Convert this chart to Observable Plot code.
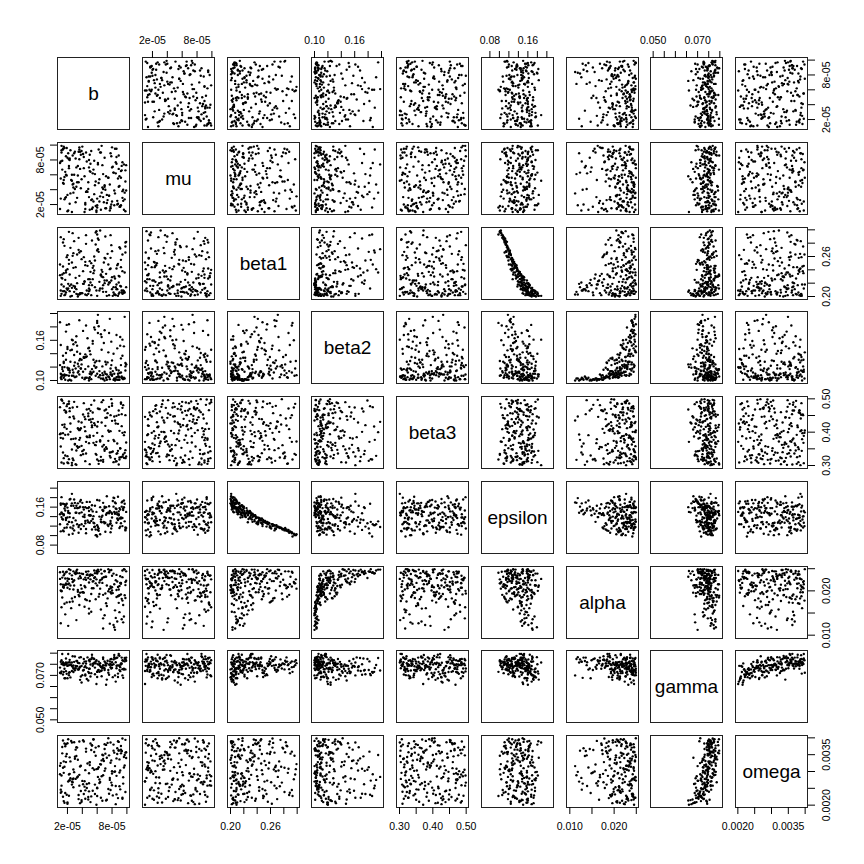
<!DOCTYPE html>
<html><head><meta charset="utf-8">
<script src="https://cdn.jsdelivr.net/npm/d3@7"></script>
<script src="https://cdn.jsdelivr.net/npm/@observablehq/plot@0.6"></script>
<style>
html,body{margin:0;padding:0;background:#fff;}
#chart{position:relative;width:864px;height:864px;overflow:hidden;background:#fff;}
#chart svg{position:absolute;overflow:visible;}
</style></head><body><div id="chart"></div>
<script>
const b=[3.4e-5,8.7e-5,1.9e-5,6.2e-5,9.6e-5,4.8e-5,2.7e-5,7.3e-5,5.5e-5,1.2e-5,
9.1e-5,3.9e-5,6.8e-5,2.2e-5,8.2e-5,4.4e-5,1.6e-5,7.7e-5,5.1e-5,9.8e-5,
2.9e-5,6.5e-5,1.1e-5,8.9e-5,4.1e-5,7.1e-5,3.2e-5,9.4e-5,5.8e-5,2.4e-5,
7.9e-5,4.6e-5,1.4e-5,6.0e-5,9.2e-5,3.6e-5,8.4e-5,2.0e-5,5.3e-5,7.5e-5,
1.8e-5,9.9e-5,4.3e-5,6.7e-5,2.6e-5,8.0e-5,3.0e-5,5.7e-5,9.5e-5,1.3e-5,
6.4e-5,3.7e-5,8.6e-5,2.3e-5,7.0e-5,4.9e-5,1.0e-5,9.0e-5,5.2e-5,3.3e-5,
8.8e-5,2.1e-5,6.1e-5,4.0e-5,9.7e-5,1.7e-5,7.4e-5,5.0e-5,2.8e-5,8.3e-5,
4.5e-5,1.5e-5,6.9e-5,9.3e-5,3.1e-5,7.8e-5,2.5e-5,5.6e-5,8.1e-5,1.9e-5,
6.3e-5,9.6e-5,3.5e-5,7.2e-5,1.2e-5,4.7e-5,8.5e-5,2.9e-5,5.9e-5,9.0e-5,
2.2e-5,7.6e-5,4.2e-5,1.6e-5,8.7e-5,6.6e-5,3.8e-5,9.4e-5,5.4e-5,2.6e-5,
7.1e-5,1.4e-5,9.2e-5,4.9e-5,3.4e-5,6.0e-5,8.9e-5,2.0e-5,5.0e-5,7.7e-5,
3.6e-5,9.8e-5,1.8e-5,6.4e-5,4.4e-5,8.2e-5,2.7e-5,7.3e-5,5.6e-5,1.1e-5,
9.1e-5,4.1e-5,6.8e-5,2.4e-5,8.0e-5,3.2e-5,5.2e-5,9.9e-5,1.5e-5,7.0e-5,
4.6e-5,2.0e-5,8.6e-5,6.2e-5,1.3e-5,9.5e-5,3.9e-5,7.5e-5,5.8e-5,2.3e-5,
8.4e-5,5.4e-5,1.7e-5,7.9e-5,3.0e-5,6.5e-5,9.3e-5,2.8e-5,4.3e-5,8.8e-5,
1.0e-5,6.7e-5,3.5e-5,9.7e-5,5.1e-5,2.1e-5,7.8e-5,4.8e-5,8.3e-5,6.1e-5,
5.7e-5,2.3e-5,9.0e-5,4.2e-5,7.6e-5,1.4e-5,6.3e-5,3.1e-5,8.5e-5,5.0e-5,
1.8e-5,9.4e-5,3.8e-5,6.8e-5,2.6e-5,8.0e-5,4.5e-5,1.2e-5,7.2e-5,5.5e-5,
8.6e-5,3.3e-5,6.0e-5,1.5e-5,9.8e-5,4.9e-5,2.2e-5,7.0e-5,5.3e-5,3.7e-5,
6.6e-5,1.1e-5,9.2e-5,4.4e-5,7.8e-5,2.8e-5,5.9e-5,8.9e-5,3.6e-5,1.6e-5];
const mu=[7.2e-5,2.5e-5,5.9e-5,9.4e-5,1.3e-5,4.1e-5,8.6e-5,3.3e-5,6.7e-5,9.9e-5,
1.8e-5,5.4e-5,3.0e-5,8.1e-5,6.3e-5,2.2e-5,9.6e-5,4.7e-5,7.5e-5,1.1e-5,
6.0e-5,9.0e-5,2.8e-5,4.4e-5,8.8e-5,1.5e-5,7.0e-5,3.8e-5,5.1e-5,9.3e-5,
2.0e-5,7.8e-5,4.9e-5,1.6e-5,6.5e-5,9.7e-5,3.5e-5,8.3e-5,2.7e-5,5.6e-5,
8.5e-5,3.9e-5,1.0e-5,7.3e-5,5.2e-5,2.4e-5,9.1e-5,6.1e-5,4.0e-5,7.9e-5,
3.1e-5,6.8e-5,9.5e-5,2.1e-5,4.6e-5,8.0e-5,1.4e-5,5.8e-5,9.2e-5,2.9e-5,
5.5e-5,1.2e-5,7.6e-5,9.8e-5,3.6e-5,6.4e-5,2.6e-5,8.7e-5,4.3e-5,1.9e-5,
9.0e-5,4.8e-5,2.3e-5,6.6e-5,8.2e-5,1.7e-5,5.3e-5,3.4e-5,7.1e-5,9.6e-5,
2.4e-5,7.4e-5,5.0e-5,1.5e-5,9.3e-5,3.7e-5,6.2e-5,8.9e-5,1.0e-5,4.5e-5,
6.9e-5,3.2e-5,8.4e-5,5.7e-5,2.0e-5,9.9e-5,4.2e-5,7.7e-5,1.6e-5,6.0e-5,
4.0e-5,9.4e-5,1.9e-5,7.0e-5,5.9e-5,2.8e-5,8.6e-5,3.3e-5,6.5e-5,1.2e-5,
8.1e-5,5.1e-5,3.0e-5,9.0e-5,1.4e-5,6.3e-5,4.7e-5,2.2e-5,7.9e-5,5.5e-5,
1.7e-5,8.8e-5,6.1e-5,3.5e-5,9.7e-5,4.4e-5,2.6e-5,7.3e-5,5.3e-5,8.3e-5,
3.8e-5,1.1e-5,7.5e-5,4.9e-5,6.7e-5,2.5e-5,9.2e-5,5.6e-5,1.8e-5,8.0e-5,
9.5e-5,6.2e-5,2.9e-5,8.5e-5,4.1e-5,1.3e-5,7.2e-5,3.6e-5,5.8e-5,2.1e-5,
7.6e-5,4.3e-5,9.1e-5,2.7e-5,6.4e-5,8.9e-5,1.5e-5,5.0e-5,3.9e-5,7.4e-5,
4.6e-5,8.2e-5,1.7e-5,6.9e-5,3.2e-5,9.5e-5,5.4e-5,2.3e-5,7.7e-5,1.3e-5,
6.0e-5,2.9e-5,8.7e-5,4.1e-5,1.0e-5,7.0e-5,3.7e-5,9.0e-5,5.8e-5,2.4e-5,
8.4e-5,5.0e-5,1.9e-5,9.8e-5,6.6e-5,3.0e-5,7.2e-5,4.4e-5,1.4e-5,9.1e-5,
3.6e-5,7.8e-5,5.6e-5,2.0e-5,8.9e-5,4.8e-5,1.2e-5,6.8e-5,9.4e-5,2.7e-5];
const beta1=[0.203,0.247,0.212,0.285,0.208,0.226,0.261,0.201,0.235,0.218,
0.272,0.205,0.229,0.297,0.214,0.252,0.202,0.241,0.221,0.266,
0.207,0.233,0.289,0.204,0.219,0.257,0.211,0.238,0.278,0.200,
0.224,0.209,0.245,0.293,0.215,0.231,0.203,0.262,0.217,0.248,
0.206,0.282,0.223,0.237,0.201,0.268,0.213,0.254,0.209,0.227,
0.299,0.204,0.242,0.216,0.258,0.208,0.232,0.274,0.202,0.220,
0.249,0.212,0.287,0.205,0.236,0.225,0.264,0.210,0.243,0.203,
0.279,0.215,0.251,0.206,0.228,0.292,0.218,0.239,0.201,0.259,
0.222,0.207,0.270,0.234,0.204,0.246,0.214,0.283,0.209,0.230,
0.255,0.202,0.219,0.276,0.211,0.240,0.205,0.263,0.226,0.213,
0.290,0.208,0.244,0.217,0.200,0.269,0.231,0.210,0.253,0.221,
0.203,0.281,0.236,0.212,0.247,0.206,0.295,0.224,0.260,0.201,
0.216,0.238,0.207,0.273,0.229,0.204,0.250,0.214,0.286,0.220,
0.202,0.241,0.211,0.267,0.233,0.205,0.256,0.218,0.296,0.208,
0.227,0.243,0.203,0.277,0.215,0.232,0.209,0.265,0.222,0.201,
0.248,0.212,0.288,0.206,0.237,0.219,0.258,0.204,0.230,0.271,
0.214,0.233,0.206,0.259,0.221,0.281,0.209,0.244,0.202,0.226,
0.239,0.204,0.268,0.217,0.251,0.211,0.292,0.228,0.207,0.246,
0.218,0.263,0.201,0.235,0.275,0.212,0.249,0.224,0.284,0.205,
0.230,0.209,0.255,0.203,0.242,0.216,0.298,0.221,0.266,0.208];
const beta2=[0.112,0.148,0.183,0.105,0.104,0.121,0.116,0.109,0.131,0.102,
0.165,0.124,0.108,0.118,0.101,0.139,0.107,0.192,0.113,0.126,
0.122,0.103,0.153,0.115,0.174,0.110,0.106,0.137,0.119,0.128,
0.158,0.104,0.114,0.186,0.133,0.109,0.100,0.147,0.117,0.106,
0.141,0.124,0.102,0.111,0.161,0.130,0.105,0.176,0.103,0.120,
0.108,0.132,0.168,0.101,0.113,0.149,0.123,0.105,0.102,0.143,
0.110,0.116,0.171,0.104,0.195,0.101,0.127,0.110,0.107,0.103,
0.135,0.126,0.156,0.106,0.118,0.112,0.100,0.179,0.114,0.108,
0.129,0.151,0.121,0.104,0.109,0.163,0.102,0.138,0.120,0.111,
0.184,0.105,0.134,0.109,0.101,0.146,0.118,0.103,0.155,0.107,
0.128,0.137,0.112,0.100,0.125,0.189,0.106,0.119,0.144,0.102,
0.130,0.115,0.173,0.108,0.104,0.140,0.160,0.101,0.122,0.110,
0.152,0.113,0.103,0.145,0.107,0.166,0.109,0.124,0.104,0.100,
0.136,0.150,0.105,0.181,0.117,0.102,0.131,0.142,0.107,0.115,
0.101,0.159,0.108,0.123,0.127,0.169,0.104,0.112,0.134,0.106,
0.187,0.121,0.114,0.103,0.139,0.100,0.118,0.148,0.110,0.198,
0.127,0.112,0.101,0.135,0.171,0.108,0.114,0.157,0.119,0.105,
0.131,0.161,0.118,0.102,0.146,0.109,0.182,0.106,0.124,0.113,
0.116,0.152,0.110,0.128,0.121,0.103,0.107,0.175,0.111,0.140,
0.165,0.104,0.123,0.117,0.109,0.154,0.129,0.101,0.190,0.120];
const beta3=[0.412,0.337,0.478,0.305,0.391,0.456,0.321,0.444,0.368,0.497,
0.352,0.429,0.311,0.485,0.377,0.403,0.466,0.329,0.438,0.346,
0.491,0.315,0.383,0.452,0.334,0.419,0.302,0.473,0.361,0.426,
0.340,0.468,0.397,0.318,0.489,0.356,0.435,0.309,0.415,0.374,
0.460,0.327,0.446,0.388,0.301,0.479,0.365,0.421,0.333,0.494,
0.372,0.408,0.313,0.463,0.349,0.437,0.394,0.324,0.482,0.358,
0.425,0.307,0.471,0.343,0.400,0.330,0.457,0.385,0.316,0.447,
0.336,0.487,0.362,0.418,0.304,0.451,0.379,0.495,0.342,0.410,
0.469,0.323,0.432,0.355,0.498,0.385,0.312,0.441,0.371,0.404,
0.319,0.476,0.347,0.423,0.366,0.490,0.331,0.398,0.459,0.308,
0.443,0.381,0.325,0.470,0.353,0.417,0.303,0.484,0.390,0.339,
0.406,0.322,0.462,0.376,0.439,0.310,0.474,0.350,0.427,0.396,
0.351,0.453,0.317,0.401,0.486,0.345,0.430,0.369,0.306,0.465,
0.387,0.328,0.449,0.314,0.422,0.481,0.359,0.405,0.335,0.472,
0.320,0.440,0.392,0.499,0.363,0.326,0.454,0.380,0.416,0.344,
0.475,0.357,0.409,0.338,0.464,0.393,0.324,0.448,0.373,0.431,
0.362,0.445,0.318,0.487,0.401,0.339,0.470,0.381,0.426,0.304,
0.459,0.327,0.412,0.496,0.348,0.434,0.371,0.309,0.468,0.389,
0.335,0.476,0.398,0.322,0.451,0.367,0.492,0.344,0.420,0.383,
0.429,0.357,0.485,0.313,0.403,0.447,0.332,0.465,0.377,0.415];
const epsilon=[0.158,0.136,0.167,0.110,0.174,0.128,0.115,0.183,0.141,0.139,
0.119,0.149,0.152,0.102,0.161,0.131,0.166,0.124,0.142,0.111,
0.176,0.129,0.109,0.151,0.160,0.127,0.148,0.137,0.113,0.177,
0.149,0.158,0.134,0.098,0.138,0.147,0.170,0.124,0.164,0.120,
0.165,0.116,0.139,0.142,0.188,0.121,0.169,0.119,0.154,0.135,
0.103,0.172,0.127,0.147,0.126,0.160,0.145,0.116,0.155,0.158,
0.133,0.152,0.112,0.169,0.130,0.153,0.123,0.171,0.137,0.179,
0.114,0.145,0.129,0.161,0.148,0.107,0.163,0.126,0.173,0.117,
0.140,0.160,0.118,0.144,0.181,0.132,0.157,0.111,0.150,0.136,
0.129,0.162,0.155,0.116,0.145,0.128,0.175,0.120,0.151,0.168,
0.108,0.167,0.136,0.143,0.168,0.122,0.143,0.159,0.127,0.152,
0.159,0.113,0.133,0.160,0.126,0.180,0.104,0.147,0.118,0.165,
0.155,0.140,0.169,0.117,0.138,0.163,0.131,0.150,0.109,0.161,
0.171,0.138,0.156,0.115,0.146,0.157,0.124,0.149,0.101,0.176,
0.146,0.135,0.162,0.115,0.158,0.134,0.170,0.121,0.144,0.182,
0.124,0.154,0.106,0.167,0.143,0.148,0.126,0.158,0.150,0.118,
0.163,0.139,0.158,0.120,0.147,0.111,0.174,0.132,0.168,0.143,
0.137,0.172,0.114,0.153,0.128,0.146,0.105,0.149,0.160,0.127,
0.149,0.124,0.175,0.143,0.117,0.152,0.129,0.158,0.113,0.161,
0.139,0.168,0.126,0.160,0.131,0.163,0.101,0.145,0.122,0.157];
const alpha=[0.0198,0.0221,0.0243,0.0187,0.0142,0.0229,0.0176,0.0212,0.0206,0.0163,
0.0233,0.0239,0.0191,0.0217,0.0123,0.0208,0.0171,0.0246,0.0226,0.0184,
0.0224,0.0158,0.0215,0.0203,0.0238,0.0194,0.0134,0.0231,0.0181,0.0212,
0.0247,0.0179,0.0209,0.0241,0.0192,0.0168,0.0112,0.0222,0.0236,0.0199,
0.0214,0.0244,0.0164,0.0218,0.0227,0.0201,0.0186,0.0240,0.0129,0.0230,
0.0205,0.0196,0.0236,0.0175,0.0244,0.0219,0.0227,0.0211,0.0153,0.0248,
0.0188,0.0215,0.0244,0.0197,0.0248,0.0147,0.0183,0.0235,0.0203,0.0118,
0.0225,0.0207,0.0231,0.0182,0.0241,0.0210,0.0161,0.0229,0.0195,0.0174,
0.0219,0.0249,0.0228,0.0172,0.0200,0.0237,0.0139,0.0212,0.0245,0.0190,
0.0249,0.0204,0.0196,0.0238,0.0131,0.0226,0.0213,0.0178,0.0221,0.0183,
0.0232,0.0243,0.0216,0.0149,0.0202,0.0239,0.0189,0.0207,0.0234,0.0126,
0.0188,0.0213,0.0242,0.0224,0.0181,0.0239,0.0220,0.0166,0.0246,0.0201,
0.0218,0.0197,0.0115,0.0247,0.0234,0.0245,0.0193,0.0223,0.0209,0.0145,
0.0236,0.0228,0.0202,0.0244,0.0185,0.0168,0.0205,0.0249,0.0217,0.0239,
0.0156,0.0235,0.0228,0.0194,0.0240,0.0248,0.0136,0.0222,0.0211,0.0209,
0.0242,0.0229,0.0191,0.0190,0.0237,0.0121,0.0206,0.0244,0.0215,0.0248,
0.0231,0.0204,0.0152,0.0226,0.0242,0.0214,0.0193,0.0238,0.0224,0.0177,
0.0217,0.0246,0.0229,0.0138,0.0235,0.0208,0.0243,0.0199,0.0232,0.0222,
0.0186,0.0240,0.0212,0.0235,0.0220,0.0160,0.0227,0.0245,0.0206,0.0233,
0.0239,0.0127,0.0218,0.0230,0.0197,0.0244,0.0226,0.0173,0.0240,0.0213];
const gamma=[0.0757,0.0745,0.0707,0.0762,0.0726,0.0716,0.0786,0.0681,0.0751,0.0768,
0.0737,0.0668,0.0781,0.0746,0.0772,0.0699,0.0730,0.0747,0.0695,0.0772,
0.0731,0.0738,0.0710,0.0791,0.0722,0.0746,0.0765,0.0728,0.0754,0.0691,
0.0774,0.0734,0.0759,0.0716,0.0750,0.0780,0.0700,0.0743,0.0793,0.0724,
0.0719,0.0766,0.0762,0.0739,0.0758,0.0747,0.0785,0.0705,0.0689,0.0753,
0.0755,0.0680,0.0778,0.0770,0.0763,0.0711,0.0735,0.0743,0.0773,0.0741,
0.0693,0.0796,0.0750,0.0701,0.0778,0.0687,0.0766,0.0763,0.0731,0.0782,
0.0753,0.0715,0.0735,0.0754,0.0732,0.0737,0.0747,0.0774,0.0692,0.0751,
0.0747,0.0730,0.0726,0.0745,0.0718,0.0781,0.0759,0.0761,0.0661,0.0788,
0.0701,0.0749,0.0724,0.0747,0.0780,0.0696,0.0695,0.0768,0.0753,0.0742,
0.0757,0.0704,0.0750,0.0768,0.0727,0.0716,0.0797,0.0687,0.0730,0.0763,
0.0755,0.0727,0.0776,0.0743,0.0741,0.0750,0.0739,0.0754,0.0757,0.0711,
0.0719,0.0754,0.0774,0.0749,0.0759,0.0741,0.0710,0.0780,0.0746,0.0731,
0.0684,0.0743,0.0732,0.0724,0.0796,0.0766,0.0742,0.0712,0.0762,0.0714,
0.0776,0.0743,0.0750,0.0731,0.0723,0.0720,0.0780,0.0745,0.0737,0.0708,
0.0712,0.0732,0.0728,0.0763,0.0749,0.0758,0.0751,0.0677,0.0792,0.0722,
0.0735,0.0759,0.0724,0.0774,0.0703,0.0750,0.0716,0.0742,0.0672,0.0772,
0.0758,0.0700,0.0782,0.0746,0.0720,0.0734,0.0763,0.0751,0.0658,0.0776,
0.0743,0.0765,0.0693,0.0755,0.0772,0.0730,0.0712,0.0724,0.0781,0.0739,
0.0722,0.0761,0.0754,0.0704,0.0773,0.0715,0.0768,0.0745,0.0733,0.0687];
const omega=[0.00285,0.00352,0.00231,0.00375,0.00312,0.00224,0.00268,0.00341,0.00395,0.00258,
0.00303,0.00215,0.00337,0.00291,0.00362,0.00244,0.00383,0.00275,0.00209,0.00356,
0.00298,0.00321,0.00237,0.00388,0.00262,0.00309,0.00346,0.00219,0.00371,0.00280,
0.00333,0.00251,0.00392,0.00227,0.00365,0.00290,0.00316,0.00204,0.00378,0.00248,
0.00328,0.00357,0.00271,0.00213,0.00386,0.00301,0.00344,0.00233,0.00264,0.00373,
0.00322,0.00206,0.00339,0.00293,0.00381,0.00241,0.00317,0.00256,0.00364,0.00282,
0.00221,0.00396,0.00308,0.00272,0.00349,0.00236,0.00385,0.00327,0.00253,0.00299,
0.00368,0.00212,0.00331,0.00360,0.00278,0.00245,0.00391,0.00305,0.00229,0.00352,
0.00266,0.00343,0.00218,0.00379,0.00288,0.00324,0.00257,0.00387,0.00201,0.00336,
0.00273,0.00348,0.00233,0.00314,0.00369,0.00286,0.00242,0.00398,0.00310,0.00261,
0.00353,0.00225,0.00376,0.00295,0.00335,0.00250,0.00362,0.00208,0.00319,0.00281,
0.00389,0.00239,0.00345,0.00269,0.00304,0.00380,0.00277,0.00216,0.00358,0.00325,
0.00247,0.00393,0.00289,0.00330,0.00259,0.00372,0.00226,0.00340,0.00296,0.00367,
0.00263,0.00384,0.00232,0.00313,0.00354,0.00283,0.00210,0.00399,0.00347,0.00274,
0.00300,0.00243,0.00375,0.00267,0.00338,0.00222,0.00361,0.00306,0.00255,0.00390,
0.00292,0.00350,0.00230,0.00318,0.00383,0.00270,0.00326,0.00217,0.00356,0.00284,
0.00261,0.00342,0.00297,0.00389,0.00234,0.00311,0.00276,0.00365,0.00203,0.00328,
0.00381,0.00222,0.00317,0.00348,0.00270,0.00294,0.00359,0.00240,0.00214,0.00396,
0.00287,0.00371,0.00252,0.00330,0.00394,0.00265,0.00228,0.00302,0.00377,0.00315,
0.00333,0.00246,0.00354,0.00219,0.00386,0.00279,0.00307,0.00363,0.00258,0.00207];

const names=["b","mu","beta1","beta2","beta3","epsilon","alpha","gamma","omega"];
const domLo=[6.6e-6,6.6e-6,0.1955,0.0955,0.291,0.0623,0.00925,0.0488,0.00193];
const domHi=[1.035e-4,1.035e-4,0.3035,0.203,0.507,0.214,0.0255,0.0812,0.00407];
const tickValues=[
 [2e-5,4e-5,6e-5,8e-5,1e-4],
 [2e-5,4e-5,6e-5,8e-5,1e-4],
 [0.20,0.22,0.24,0.26,0.28,0.30],
 [0.10,0.12,0.14,0.16,0.18,0.20],
 [0.30,0.35,0.40,0.45,0.50],
 [0.08,0.10,0.12,0.14,0.16,0.18,0.20],
 [0.010,0.015,0.020,0.025],
 [0.050,0.055,0.060,0.065,0.070,0.075,0.080],
 [0.0020,0.0025,0.0030,0.0035,0.0040]];
const tickLabels=[
 ["2e-05","","","8e-05",""],
 ["2e-05","","","8e-05",""],
 ["0.20","","","0.26","",""],
 ["0.10","","","0.16","",""],
 ["0.30","","0.40","","0.50"],
 ["0.08","","","","0.16","",""],
 ["0.010","","0.020",""],
 ["0.050","","","","0.070","",""],
 ["0.0020","","","0.0035",""]];

const rows=b.map((_,k)=>({b:b[k],mu:mu[k],beta1:beta1[k],beta2:beta2[k],beta3:beta3[k],
  epsilon:epsilon[k],alpha:alpha[k],gamma:gamma[k],omega:omega[k]}));

const M=40, S=72, STEP=84.75, ORIGIN=57;
const FONT="'Liberation Sans', Arial, Helvetica, sans-serif";
const chart=document.getElementById("chart");
const n=names.length;
const fmt=k=>{const m=new Map(tickValues[k].map((v,t)=>[v,tickLabels[k][t]]));return d=>m.get(d)??"";};

for(let i=0;i<n;i++){
  for(let j=0;j<n;j++){
    const marks=[];
    if(i===j){
      marks.push(Plot.text([names[i]],{frameAnchor:"middle",text:d=>d,fontSize:19,fill:"black"}));
    }else{
      marks.push(Plot.dot(rows,{x:names[j],y:names[i],r:1.2,fill:"black",stroke:null}));
    }
    marks.push(Plot.frame({stroke:"#222",strokeWidth:1}));
    let hasX=false, hasY=false;
    if(i===0 && j%2===1){hasX=true;marks.push(Plot.axisX(tickValues[j],{anchor:"top",tickSize:7,tickPadding:7,tickFormat:fmt(j),label:null,fontSize:10.5}));}
    if(i===n-1 && j%2===0){hasX=true;marks.push(Plot.axisX(tickValues[j],{anchor:"bottom",tickSize:7,tickPadding:8.5,tickFormat:fmt(j),label:null,fontSize:10.5}));}
    if(j===0 && i%2===1){hasY=true;marks.push(Plot.axisY(tickValues[i],{anchor:"left",tickSize:7,tickPadding:7,tickRotate:-90,tickFormat:fmt(i),label:null,fontSize:10.5}));}
    if(j===n-1 && i%2===0){hasY=true;marks.push(Plot.axisY(tickValues[i],{anchor:"right",tickSize:7,tickPadding:7.7,tickRotate:-90,lineAnchor:"top",tickFormat:fmt(i),label:null,fontSize:10.5}));}
    const svg=Plot.plot({
      width:S+2*M,height:S+2*M,margin:M,
      x:{domain:[domLo[j],domHi[j]],label:null,axis:hasX?undefined:null},
      y:{domain:[domLo[i],domHi[i]],label:null,axis:hasY?undefined:null},
      style:{background:"transparent",fontFamily:FONT,fontSize:"10.5px",color:"black",overflow:"visible",maxWidth:"none"},
      marks
    });
    svg.style.position="absolute";
    svg.style.left=(Math.round(ORIGIN+j*STEP)-M)+"px";
    svg.style.top=(Math.round(ORIGIN+i*STEP)-M)+"px";
    chart.appendChild(svg);
  }
}
</script></body></html>
